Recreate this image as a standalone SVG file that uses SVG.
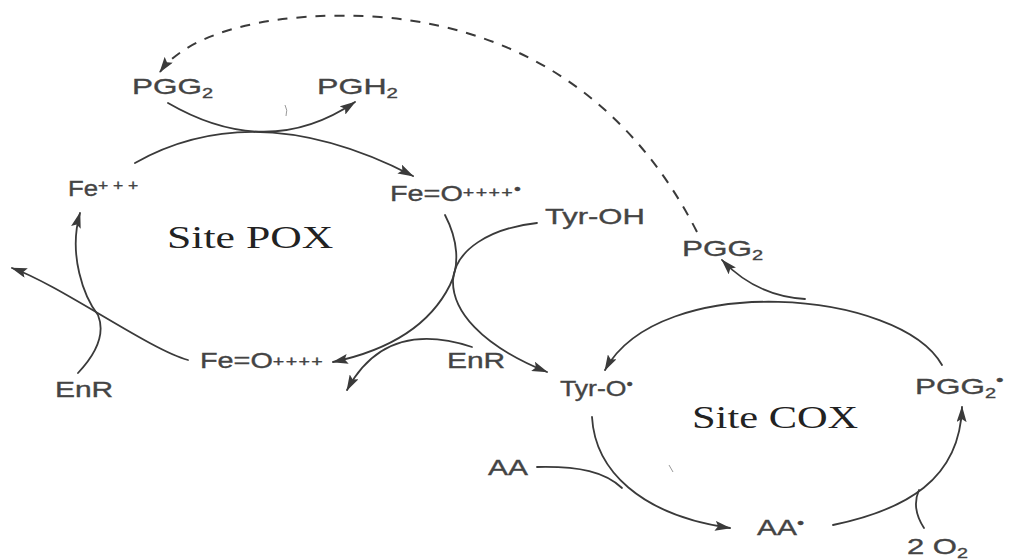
<svg xmlns="http://www.w3.org/2000/svg" width="1020" height="560" viewBox="0 0 1020 560">
<style>
.c{fill:none;stroke:#3a3a3a;stroke-width:1.8;stroke-linecap:round}
.d{fill:none;stroke:#3a3a3a;stroke-width:2;stroke-dasharray:10 9}
.a{marker-end:url(#ah)}
.t{font-family:"Liberation Sans",Arial,sans-serif;font-size:22px;fill:#444;stroke:#444;stroke-width:0.35}
.s{font-family:"Liberation Serif","Times New Roman",serif;font-size:31px;fill:#222}
.sub{font-size:14px}
.sup{font-size:15px}
.m{fill:none;stroke:#9a9a9a;stroke-width:1}
</style>
<defs>
<marker id="ah" viewBox="0 0 16 10" refX="15" refY="5" markerWidth="16" markerHeight="10" markerUnits="userSpaceOnUse" orient="auto">
<path d="M0,0 L16,5 L0,10 L3,5 Z" fill="#3a3a3a"/>
</marker>
</defs>
<rect width="1020" height="560" fill="#fff"/>
<g id="connectors">
<path class="c a" d="M135,163 Q256,95 413,176"/>
<path class="c a" d="M168,103 Q268,161 355,102"/>
<path class="c a" d="M445,215 C458,240 460,265 450,285 C430,325 390,350 333,362"/>
<path class="c a" d="M537,223 C490,228 455,250 453,280 C452,310 480,345 547,372"/>
<path class="c a" d="M472,347 C420,330 375,338 347,390"/>
<path class="c a" d="M188,360 C150,350 60,285 12,268"/>
<path class="c a" d="M78,373 C95,355 106,335 98,315 C84,297 68,255 80,213"/>
<path class="c a" d="M942,365 C900,290 660,270 605,370"/>
<path class="c a" d="M805,299 Q756,296 722,260"/>
<path class="c a" d="M592,417 C595,470 640,515 730,528"/>
<path class="c" d="M537,467 C580,466 605,472 622,488"/>
<path class="c a" d="M833,525 C905,510 960,480 962,407"/>
<path class="c" d="M924,528 Q911,508 919,490"/>
<path class="d a" d="M697,232 C640,120 540,30 380,17 C280,10 190,30 160,72"/>
</g>
<g id="marks">
<path class="m" d="M285,105 Q288,110 286,116"/>
<path class="m" d="M669,465 L673,472"/>
</g>
<g id="pox-label"><text class="s" transform="translate(167,248) scale(1.41,1)">Site POX</text></g>
<g id="cox-label"><text class="s" transform="translate(692,428) scale(1.37,1)">Site COX</text></g>
<g id="pgg2-top"><text class="t" transform="translate(132,94) scale(1.43,1)">PGG<tspan class="sub" dy="4">2</tspan></text></g>
<g id="pgh2"><text class="t" transform="translate(317,94) scale(1.46,1)">PGH<tspan class="sub" dy="4">2</tspan></text></g>
<g id="fe3"><text class="t" transform="translate(68,196) scale(1.17,1)">Fe<tspan class="sup" dy="-6" letter-spacing="4">+++</tspan></text></g>
<g id="feo-radical"><text class="t" transform="translate(390,201) scale(1.31,1)">Fe=O<tspan class="sup" dy="-4" letter-spacing="1">++++</tspan><tspan class="sup" dy="-3">•</tspan></text></g>
<g id="tyr-oh"><text class="t" transform="translate(545,224) scale(1.41,1)">Tyr-OH</text></g>
<g id="pgg2-mid"><text class="t" transform="translate(682,256) scale(1.43,1)">PGG<tspan class="sub" dy="4">2</tspan></text></g>
<g id="enr-left"><text class="t" transform="translate(55,397) scale(1.36,1)">EnR</text></g>
<g id="feo"><text class="t" transform="translate(200,368) scale(1.31,1)">Fe=O<tspan class="sup" dy="-2" letter-spacing="1">++++</tspan></text></g>
<g id="enr-mid"><text class="t" transform="translate(447,368) scale(1.36,1)">EnR</text></g>
<g id="tyr-o"><text class="t" transform="translate(560,396) scale(1.21,1)">Tyr-O<tspan class="sup" dy="-7">•</tspan></text></g>
<g id="pgg2-radical"><text class="t" transform="translate(915,394) scale(1.43,1)">PGG<tspan class="sub" dy="4">2</tspan><tspan class="sup" dy="-13">•</tspan></text></g>
<g id="aa"><text class="t" transform="translate(488,475) scale(1.36,1)">AA</text></g>
<g id="aa-radical"><text class="t" transform="translate(757,535) scale(1.36,1)">AA<tspan class="sup" dy="-7">•</tspan></text></g>
<g id="o2"><text class="t" transform="translate(907,554) scale(1.41,1)">2 O<tspan class="sub" dy="4">2</tspan></text></g>
</svg>
